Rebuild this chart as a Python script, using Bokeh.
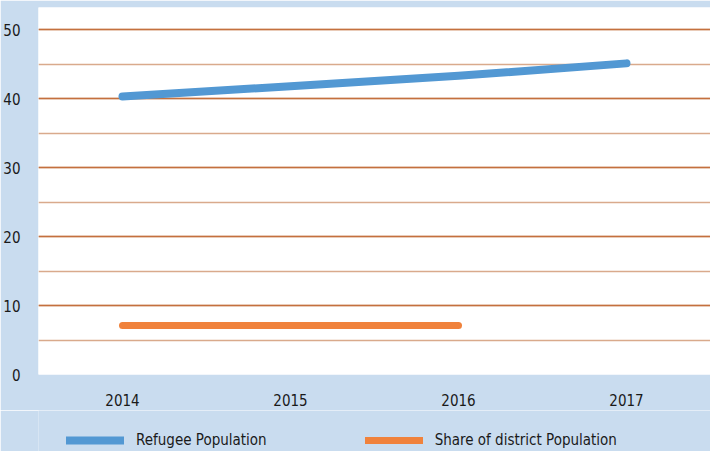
from bokeh.plotting import figure
from bokeh.layouts import column
from bokeh.models import Range1d, SingleIntervalTicker, Legend, LegendItem, FactorRange
from bokeh.embed import file_html
from bokeh.resources import INLINE

years = ["2014", "2015", "2016", "2017"]
refugee = [40.3, 41.8, 43.3, 45.1]
share_years = ["2014", "2015", "2016"]
share = [7.1, 7.1, 7.1]

FONT = "DejaVu Sans Condensed"
BG = "#c9dcef"
BLUE = "#5298d3"
ORANGE = "#f0823c"

p = figure(width=710, height=410, x_range=FactorRange(*years), y_range=Range1d(0, 53.2),
           output_backend="svg", toolbar_location=None,
           min_border_left=38, min_border_right=0, min_border_top=7, min_border_bottom=36)
p.background_fill_color = "white"
p.border_fill_color = BG
p.outline_line_color = None

p.line(years, refugee, line_color=BLUE, line_width=8, line_cap="round", line_join="round")
p.line(share_years, share, line_color=ORANGE, line_width=7, line_cap="round", line_join="round")

p.yaxis.ticker = SingleIntervalTicker(interval=10, num_minor_ticks=2)
p.ygrid.ticker = SingleIntervalTicker(interval=10, num_minor_ticks=2)
p.ygrid.grid_line_color = "#c4703e"
p.ygrid.grid_line_width = 1.3
p.ygrid.minor_grid_line_color = "#d9aa8c"
p.ygrid.minor_grid_line_width = 1.3
p.xgrid.grid_line_color = None

for ax in (p.xaxis, p.yaxis):
    ax.axis_line_color = None
    ax.major_tick_line_color = None
    ax.minor_tick_line_color = None
    ax.major_label_text_font = FONT
    ax.major_label_text_font_size = "15px"
    ax.major_label_text_color = "#1a1a1a"
p.yaxis.major_label_standoff = 12
p.xaxis.major_label_standoff = 13

# legend strip below the chart (series drawn out of view, only the legend shows)
p2 = figure(width=710, height=41, x_range=FactorRange(*years), y_range=Range1d(100, 101),
            output_backend="svg", toolbar_location=None, x_axis_type=None, y_axis_type=None,
            min_border_left=0, min_border_right=0, min_border_top=0, min_border_bottom=0)
p2.background_fill_color = BG
p2.border_fill_color = BG
p2.outline_line_color = None
p2.grid.grid_line_color = None
l1 = p2.line(years, refugee, line_color=BLUE, line_width=8, line_cap="round")
l2 = p2.line(share_years, share, line_color=ORANGE, line_width=7, line_cap="round")

legend = Legend(items=[LegendItem(label="Refugee Population", renderers=[l1]),
                       LegendItem(label="Share of district Population", renderers=[l2])],
                orientation="horizontal", location=(28, 2),
                label_text_font=FONT, label_text_font_size="15px", label_text_color="#1a1a1a",
                label_height=16, glyph_width=58, glyph_height=12, spacing=98, label_standoff=12,
                background_fill_alpha=0, border_line_color=None, padding=0, margin=0)
p2.add_layout(legend, "center")

layout = column(p, p2, spacing=0)
open("out.html", "w").write(file_html(layout, INLINE))
